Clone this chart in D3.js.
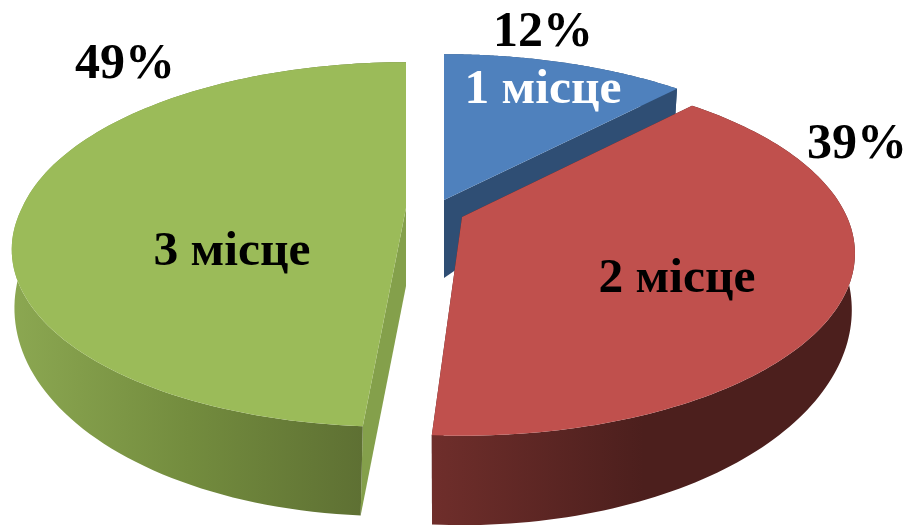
<!DOCTYPE html>
<html lang="uk">
<head>
<meta charset="utf-8">
<style>
html,body{margin:0;padding:0;background:#fff;overflow:hidden}
svg{display:block}
text{font-family:"Liberation Serif","Times New Roman",serif;font-weight:bold}
text.cat{font-size:49.5px}
text.pct{font-size:50px}
</style>
</head>
<body>
<svg id="chart" width="920" height="525"></svg>
<script src="https://cdn.jsdelivr.net/npm/d3@7/dist/d3.min.js"></script>
<script>
// ---- data ----
const categories = ["1 місце", "2 місце", "3 місце"];
const shares = [12, 39, 49];
const percentLabels = ["12%", "39%", "49%"];

// ---- style ----
const topColors = ["#4f81bd", "#c0504d", "#9bbb59"];
const cutColors = ["#2f4e74", "#4d1f1e", "#84a04b"];
const wallStops = [
  ["#2f4e74", "#2f4e74", "#2f4e74"],
  ["#6f2e2b", "#4c1f1d", "#4c1f1d"],
  ["#8ba751", "#738c3e", "#5e7033"]
];
const labelColors = ["#fff", "#000", "#000"];

// ---- layout ----
const apexX = [444, 462, 406];
const apexY = [200, 217, 208];
const radiusX = [390, 385, 384];
const skew = [0, 0, -0.06];
const wallX0 = [444, 432, 15];
const wallX1 = [677, 855, 363];
const catLabelPos = [[543, 103], [677, 292], [232, 265]];
const pctLabelPos = [[543, 46], [857, 158], [125, 78]];
const ry = 175, persp = 0.2, rimDrop = 50, apexDrop = 78, bottomX = 0.992, bottomY = 1.18;

const svg = d3.select("#chart");
const defs = svg.append("defs");
const pie = d3.pie().sort(null).value(d => d);
const arcs = pie(shares);

function project(i, a, r, bottom) {
  const d = 1 + persp * r * Math.cos(a);
  const kx = bottom ? bottomX : 1, ky = bottom ? bottomY : 1;
  const y = -ry * ky * r * Math.cos(a) / d;
  const x = radiusX[i] * kx * r * Math.sin(a) / d + skew[i] * Math.max(0, y);
  const dy = bottom ? (r === 0 ? apexDrop : rimDrop) : 0;
  return [apexX[i] + x, apexY[i] + y + dy];
}
function rim(i, a0, a1, bottom) {
  const n = 120;
  return d3.range(n + 1).map(k => project(i, a0 + (a1 - a0) * k / n, 1, bottom));
}
const line = d3.line();

wallStops.forEach((stops, i) => {
  const g = defs.append("linearGradient")
    .attr("id", "wall" + i).attr("gradientUnits", "userSpaceOnUse")
    .attr("x1", wallX0[i]).attr("x2", wallX1[i]).attr("y1", 0).attr("y2", 0);
  g.selectAll("stop").data(stops).join("stop")
    .attr("offset", (d, k) => k / (stops.length - 1))
    .attr("stop-color", d => d);
});

// far to near: green, blue, red
[2, 0, 1].forEach(i => {
  const s = arcs[i];
  const g = svg.append("g");
  const top = rim(i, s.startAngle, s.endAngle, false);
  const bot = rim(i, s.startAngle, s.endAngle, true);
  // cut faces
  [s.startAngle, s.endAngle].forEach(a => {
    const face = [project(i, a, 0, false), project(i, a, 1, false),
                  project(i, a, 1, true), project(i, a, 0, true)];
    g.append("path").attr("d", line(face) + "Z").attr("fill", cutColors[i]);
  });
  // outer wall
  g.append("path").attr("d", line(top.concat(bot.slice().reverse())) + "Z")
    .attr("fill", "url(#wall" + i + ")");
  // top face
  g.append("path").attr("d", line([project(i, 0, 0, false)].concat(top)) + "Z")
    .attr("fill", topColors[i]);
});

svg.selectAll("text.cat").data(categories).join("text").attr("class", "cat")
  .attr("x", (d, i) => catLabelPos[i][0]).attr("y", (d, i) => catLabelPos[i][1])
  .attr("text-anchor", "middle").attr("fill", (d, i) => labelColors[i]).text(d => d);
svg.selectAll("text.pct").data(percentLabels).join("text").attr("class", "pct")
  .attr("x", (d, i) => pctLabelPos[i][0]).attr("y", (d, i) => pctLabelPos[i][1])
  .attr("text-anchor", "middle").attr("fill", "#000").text(d => d);
</script>
</body>
</html>
